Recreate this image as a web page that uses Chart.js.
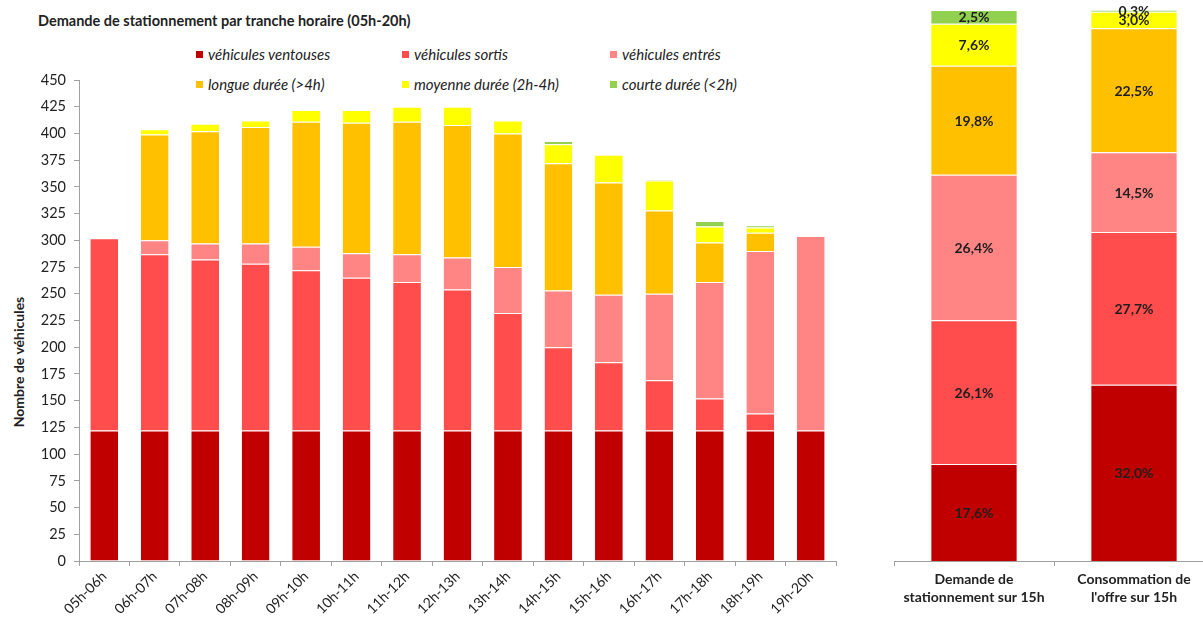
<!DOCTYPE html>
<html>
<head>
<meta charset="utf-8">
<script src="https://cdn.jsdelivr.net/npm/chart.js@4"></script>
<style>
  html, body { margin: 0; padding: 0; background: #fff; overflow: hidden; }
  body { width: 1203px; height: 617px; position: relative; font-family: Lato, sans-serif; color: #222; }
  #title { position: absolute; left: 38px; top: 12px; font-weight: bold; font-size: 14.5px; white-space: nowrap; }
  #ytitle { position: absolute; left: 18px; top: 362px; font-weight: bold; font-size: 14px; white-space: nowrap;
            transform: translate(-50%, -50%) rotate(-90deg); }
  .leg { position: absolute; font-style: italic; font-size: 15px; white-space: nowrap; line-height: 18px; }
  .leg i { position: absolute; width: 7px; height: 7px; top: 6px; }
  #left { position: absolute; left: 0; top: 0; }
  #right { position: absolute; left: 884px; top: 0; }
</style>
</head>
<body>
<div id="title">Demande de stationnement par tranche horaire (05h-20h)</div>
<div id="ytitle">Nombre de véhicules</div>
<div id="legend"></div>
<canvas id="left" width="860" height="617"></canvas>
<canvas id="right" width="330" height="617"></canvas>
<script>
// data - left chart (vehicles per hour slot)
const hours = ['05h-06h', '06h-07h', '07h-08h', '08h-09h', '09h-10h', '10h-11h', '11h-12h', '12h-13h',
               '13h-14h', '14h-15h', '15h-16h', '16h-17h', '17h-18h', '18h-19h', '19h-20h'];
const ventouses = [122, 122, 122, 122, 122, 122, 122, 122, 122, 122, 122, 122, 122, 122, 122];
const sortis =    [180, 165, 160, 156, 150, 143, 139, 132, 110, 78, 64, 47, 30, 16, 0];
const entres =    [0, 13, 15, 19, 22, 23, 26, 30, 43, 53, 63, 81, 109, 152, 182];
const longue =    [0, 99, 105, 109, 117, 122, 124, 124, 125, 119, 105, 78, 37, 17, 0];
const moyenne =   [0, 5, 7, 6, 11, 12, 14, 17, 12, 18, 26, 28, 15, 5, 0];
const courte =    [0, 0, 0, 0, 0, 0, 0, 0, 0, 3, 0, 1, 5, 2, 0];

// data - right chart (percent over 15h)
const totLabels = [['Demande de', 'stationnement sur 15h'], ['Consommation de', "l'offre sur 15h"]];
const pVentouses = [17.6, 32.0];
const pSortis =    [26.1, 27.7];
const pEntres =    [26.4, 14.5];
const pLongue =    [19.8, 22.5];
const pMoyenne =   [7.6, 3.0];
const pCourte =    [2.5, 0.3];

// series names / colours
const names = ['véhicules ventouses', 'véhicules sortis', 'véhicules entrés',
               'longue durée (>4h)', 'moyenne durée (2h-4h)', 'courte durée (<2h)'];
const colors = ['#C00000', '#FF4D4D', '#FF8585', '#FFC000', '#FFFF00', '#92D050'];

// html legend, 2 rows x 3 cols
const legPos = [[208, 45], [414, 45], [622, 45], [208, 75], [414, 75], [622, 75]];
const legEl = document.getElementById('legend');
names.forEach((n, i) => {
  const d = document.createElement('div');
  d.className = 'leg';
  d.style.left = legPos[i][0] + 'px';
  d.style.top = legPos[i][1] + 'px';
  d.innerHTML = '<i style="left:-12px;background:' + colors[i] + '"></i>';
  d.appendChild(document.createTextNode(n));
  legEl.appendChild(d);
});

function mkSets(series, bp) {
  return series.map((s, i) => ({
    label: names[i],
    data: s,
    backgroundColor: colors[i],
    borderColor: 'rgba(255,255,255,0.75)',
    borderWidth: { top: 1, left: 0, right: 0, bottom: 0 },
    borderSkipped: false,
    barPercentage: bp,
    categoryPercentage: 1
  }));
}

const axisGrey = '#A0A0A0';

new Chart(document.getElementById('left'), {
  type: 'bar',
  data: { labels: hours, datasets: mkSets([ventouses, sortis, entres, longue, moyenne, courte], 0.55) },
  options: {
    responsive: false,
    devicePixelRatio: 1,
    animation: false,
    layout: { padding: { top: 80, right: 24, left: 0, bottom: 0 } },
    plugins: { legend: { display: false }, tooltip: { enabled: false } },
    scales: {
      x: {
        stacked: true,
        afterFit: (s) => { s.height = 56; },
        border: { color: axisGrey },
        grid: { drawOnChartArea: false, drawTicks: true, tickLength: 5, color: axisGrey },
        ticks: { autoSkip: false, maxRotation: 45, minRotation: 45, padding: 2, color: '#222', font: { family: 'Lato', size: 14 } }
      },
      y: {
        stacked: true,
        min: 0, max: 450,
        afterFit: (s) => { s.width = 79; },
        border: { color: axisGrey },
        grid: { drawOnChartArea: false, drawTicks: true, tickLength: 5, color: axisGrey },
        ticks: { stepSize: 25, padding: 8, color: '#222', font: { family: 'Lato', size: 14.5 } }
      }
    }
  }
});

// labels in the middle of each segment
const segLabels = {
  id: 'segLabels',
  afterDatasetsDraw(chart) {
    const ctx = chart.ctx;
    ctx.save();
    ctx.font = 'bold 14px Lato';
    ctx.fillStyle = '#1E1E1E';
    ctx.textAlign = 'center';
    ctx.textBaseline = 'middle';
    chart.data.datasets.forEach((ds, di) => {
      chart.getDatasetMeta(di).data.forEach((el, i) => {
        const p = el.getProps(['x', 'y', 'base'], true);
        const txt = ds.data[i].toFixed(1).replace('.', ',') + '%';
        ctx.fillText(txt, p.x, (p.y + p.base) / 2 + 1);
      });
    });
    ctx.restore();
  }
};

new Chart(document.getElementById('right'), {
  type: 'bar',
  data: { labels: totLabels, datasets: mkSets([pVentouses, pSortis, pEntres, pLongue, pMoyenne, pCourte], 0.535) },
  plugins: [segLabels],
  options: {
    responsive: false,
    devicePixelRatio: 1,
    animation: false,
    layout: { padding: { top: 10, right: 0, left: 10, bottom: 0 } },
    plugins: { legend: { display: false }, tooltip: { enabled: false } },
    scales: {
      x: {
        stacked: true,
        afterFit: (s) => { s.height = 56; },
        border: { color: axisGrey },
        grid: { drawOnChartArea: false, drawTicks: true, tickLength: 5, color: axisGrey },
        ticks: { autoSkip: false, maxRotation: 0, minRotation: 0, padding: 5, color: '#222',
                 font: { family: 'Lato', size: 14, weight: 'bold', lineHeight: 1.25 } }
      },
      y: { stacked: true, min: 0, max: 100, display: false }
    }
  }
});
</script>
</body>
</html>
